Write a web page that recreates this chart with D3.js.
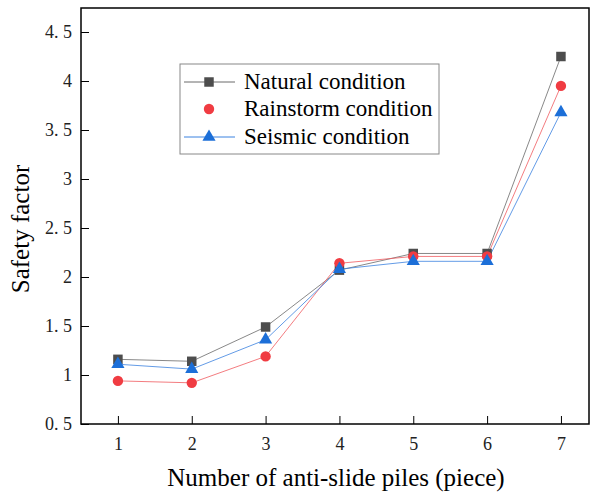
<!DOCTYPE html>
<html><head><meta charset="utf-8">
<script src="https://cdn.jsdelivr.net/npm/d3@7"></script>
<style>body{margin:0;background:#fff}svg{display:block}</style>
</head><body><svg id="c" width="591" height="492"></svg>
<script>
const piles = [1, 2, 3, 4, 5, 6, 7];
const natural = [1.16, 1.14, 1.49, 2.07, 2.24, 2.24, 4.25];
const rainstorm = [0.94, 0.92, 1.19, 2.14, 2.21, 2.21, 3.95];
const seismic = [1.11, 1.06, 1.36, 2.08, 2.16, 2.16, 3.68];
const yTicks = [0.5, 1, 1.5, 2, 2.5, 3, 3.5, 4, 4.5];
const seriesNames = ["Natural condition", "Rainstorm condition", "Seismic condition"];

const svg = d3.select("#c");
const font = "'Liberation Serif','Times New Roman',serif";
const m = {l: 81, r: 589, t: 8, b: 424};
const x = d3.scaleLinear().domain([0.5, 7.38]).range([m.l, m.r]);
const y = d3.scaleLinear().domain([0.5, 4.745]).range([m.b, m.t]);

const series = [
  {name: seriesNames[0], vals: natural, color: "#4d4d4d", line: "#6a6a6a", shape: d3.symbolSquare, size: 90, legendLine: true},
  {name: seriesNames[1], vals: rainstorm, color: "#f03c42", line: "#f05a5f", shape: d3.symbolCircle, size: 85, legendLine: false},
  {name: seriesNames[2], vals: seismic, color: "#1c6fd8", line: "#3b82e0", shape: d3.symbolTriangle, size: 75, legendLine: true}
];

series.forEach(s => {
  const pts = piles.map((p, i) => [p, s.vals[i]]);
  svg.append("path").datum(pts)
    .attr("d", d3.line().x(d => x(d[0])).y(d => y(d[1])))
    .attr("fill", "none").attr("stroke", s.line).attr("stroke-width", 0.8);
});
series.forEach(s => {
  svg.append("g").selectAll("path").data(piles.map((p, i) => [p, s.vals[i]])).join("path")
    .attr("transform", d => `translate(${x(d[0])},${y(d[1])})`)
    .attr("d", d3.symbol().type(s.shape).size(s.size))
    .attr("fill", s.color);
});

svg.append("rect").attr("x", m.l).attr("y", m.t).attr("width", m.r - m.l).attr("height", m.b - m.t)
  .attr("fill", "none").attr("stroke", "#000").attr("stroke-width", 1.5);

const xAxis = d3.axisBottom(x).tickValues(piles).tickSize(-8).tickPadding(13).tickFormat(d3.format("d"));
const gx = svg.append("g").attr("transform", `translate(0,${m.b})`).call(xAxis);
gx.select(".domain").remove();
gx.selectAll("line").attr("stroke", "#000");
gx.selectAll("text").style("font-family", font).style("font-size", "18px").attr("fill", "#222");

const yAxis = d3.axisLeft(y).tickValues(yTicks).tickSize(-8).tickPadding(9)
  .tickFormat(d => Number.isInteger(d) ? String(d) : String(d).replace(".", ". "));
const gy = svg.append("g").attr("transform", `translate(${m.l},0)`).call(yAxis);
gy.select(".domain").remove();
gy.selectAll("line").attr("stroke", "#000");
gy.selectAll("text").style("font-family", font).style("font-size", "18px").attr("fill", "#222");

svg.append("text").attr("x", 336).attr("y", 486).attr("text-anchor", "middle")
  .style("font-family", font).style("font-size", "25px").attr("fill", "#000")
  .text("Number of anti-slide piles (piece)");
svg.append("text").attr("transform", "translate(29,229) rotate(-90)").attr("text-anchor", "middle")
  .style("font-family", font).style("font-size", "25px").attr("fill", "#000")
  .text("Safety factor");

const lg = svg.append("g");
lg.append("rect").attr("x", 180).attr("y", 64).attr("width", 259).attr("height", 90)
  .attr("fill", "#fff").attr("stroke", "#888").attr("stroke-width", 1);
const rows = [82, 109, 137];
series.forEach((s, i) => {
  if (s.legendLine) lg.append("line").attr("x1", 184).attr("x2", 235).attr("y1", rows[i]).attr("y2", rows[i])
    .attr("stroke", s.line).attr("stroke-width", 1);
  lg.append("path").attr("transform", `translate(209,${rows[i]})`)
    .attr("d", d3.symbol().type(s.shape).size(s.size)).attr("fill", s.color);
  lg.append("text").attr("x", 244).attr("y", rows[i] + 7).style("font-family", font)
    .style("font-size", "23px").attr("fill", "#000").text(s.name);
});
</script></body></html>
